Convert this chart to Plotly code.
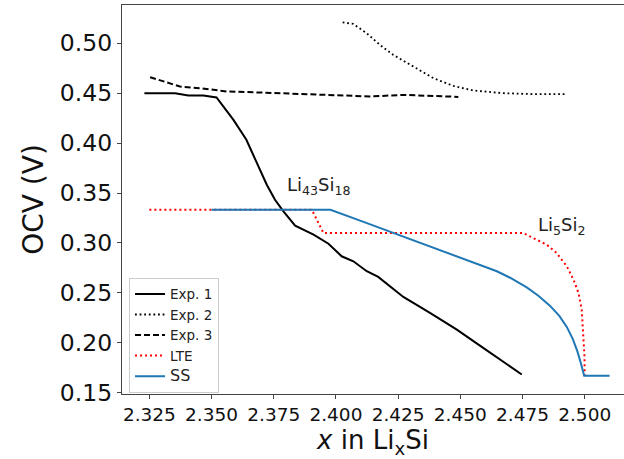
import plotly.graph_objects as go

# Exp. 1 (solid black)
exp1_x = [2.323, 2.3353, 2.3407, 2.3467, 2.352, 2.3588, 2.364, 2.3682, 2.3722, 2.3755, 2.3789,
          2.3836, 2.391, 2.397, 2.4023, 2.407, 2.4104, 2.4124, 2.417, 2.4271, 2.4378, 2.4486,
          2.4592, 2.4659, 2.4747]
exp1_y = [0.450, 0.450, 0.4477, 0.4477, 0.4457, 0.4233, 0.4033, 0.380, 0.3583, 0.3433, 0.3317,
          0.3173, 0.3083, 0.2993, 0.2867, 0.2817, 0.2750, 0.2717, 0.266, 0.246, 0.230, 0.2133,
          0.195, 0.1833, 0.1683]

# Exp. 2 (dotted black)
exp2_x = [2.4027, 2.407, 2.4124, 2.4177, 2.4231, 2.4311, 2.4392, 2.4472, 2.4552, 2.4673, 2.4807, 2.4921]
exp2_y = [0.521, 0.5193, 0.510, 0.4983, 0.4883, 0.4767, 0.465, 0.4573, 0.4527, 0.450, 0.449, 0.449]

# Exp. 3 (dashed black)
exp3_x = [2.3253, 2.3306, 2.3373, 2.3454, 2.3561, 2.3695, 2.3869, 2.4003, 2.4137, 2.4271, 2.4405, 2.4492]
exp3_y = [0.466, 0.4617, 0.4567, 0.455, 0.4517, 0.4507, 0.449, 0.4477, 0.4467, 0.4483, 0.4473, 0.4463]

# LTE (red dotted)
lte_x = [2.325, 2.3903, 2.395, 2.4753, 2.4793, 2.4847, 2.4887, 2.4928, 2.4955, 2.4975, 2.4988,
         2.4995, 2.4999, 2.500]
lte_y = [0.3333, 0.3333, 0.310, 0.310, 0.305, 0.2983, 0.290, 0.2767, 0.2633, 0.250, 0.2333,
         0.210, 0.1867, 0.167]

# SS (blue solid)
ss_x = [2.350, 2.3978, 2.410, 2.4231, 2.435, 2.4472, 2.456, 2.4647, 2.470, 2.4767, 2.4815, 2.4861,
        2.4898, 2.4928, 2.4952, 2.497, 2.4983, 2.4992, 2.4998, 2.510]
ss_y = [0.3333, 0.3333, 0.3222, 0.310, 0.2993, 0.2883, 0.280, 0.2717, 0.2652, 0.2555, 0.247, 0.237,
        0.227, 0.216, 0.204, 0.192, 0.181, 0.173, 0.167, 0.167]

# Phase labels
label_text = ["Li<sub>43</sub>Si<sub>18</sub>", "Li<sub>5</sub>Si<sub>2</sub>"]
label_x = [2.3795, 2.4804]
label_y = [0.357, 0.3167]

FONT = "DejaVu Sans"

fig = go.Figure()
fig.add_trace(go.Scatter(x=exp1_x, y=exp1_y, mode="lines", name="Exp. 1",
                         line=dict(color="black", width=2)))
fig.add_trace(go.Scatter(x=exp2_x, y=exp2_y, mode="lines", name="Exp. 2",
                         line=dict(color="black", width=1.8, dash="1.8px,2.8px")))
fig.add_trace(go.Scatter(x=exp3_x, y=exp3_y, mode="lines", name="Exp. 3",
                         line=dict(color="black", width=2, dash="6px,3px")))
fig.add_trace(go.Scatter(x=lte_x, y=lte_y, mode="lines", name="LTE",
                         line=dict(color="red", width=2, dash="2px,3px")))
fig.add_trace(go.Scatter(x=ss_x, y=ss_y, mode="lines", name="<span style='font-size:16px'>SS</span>",
                         line=dict(color="#1f77b4", width=2)))

for t, xx, yy in zip(label_text, label_x, label_y):
    fig.add_annotation(x=xx, y=yy, text=t, showarrow=False, xanchor="left", yanchor="middle",
                       font=dict(family=FONT, size=18, color="#222"))

fig.update_layout(
    width=624, height=459,
    margin=dict(l=122, r=0, t=5, b=64.5, autoexpand=False),
    paper_bgcolor="white", plot_bgcolor="white",
    font=dict(family=FONT, color="black"),
    showlegend=True,
    legend=dict(x=0.014, y=0.299, xanchor="left", yanchor="top",
                bgcolor="rgba(255,255,255,0.8)", bordercolor="#cccccc", borderwidth=1,
                font=dict(family=FONT, size=13.5, color="#222"), itemwidth=30,
                tracegroupgap=0),
)
fig.update_xaxes(range=[2.314, 2.5158], tickvals=[2.325, 2.35, 2.375, 2.4, 2.425, 2.45, 2.475, 2.5],
                 ticktext=["2.325", "2.350", "2.375", "2.400", "2.425", "2.450", "2.475", "2.500"],
                 showgrid=False, zeroline=False, showline=True, linecolor="#444", linewidth=1.2,
                 mirror=True, ticks="outside", ticklen=4, tickcolor="#444", automargin=False,
                 tickfont=dict(family=FONT, size=18.5, color="#111"),
                 title=dict(text="<i>x</i> in Li<sub>x</sub>Si", font=dict(family=FONT, size=26, color="#111"),
                            standoff=2))
fig.update_yaxes(range=[0.1488, 0.5383], tickvals=[0.15, 0.2, 0.25, 0.3, 0.35, 0.4, 0.45, 0.5],
                 ticktext=["0.15", "0.20", "0.25", "0.30", "0.35", "0.40", "0.45", "0.50"],
                 showgrid=False, zeroline=False, showline=True, linecolor="#444", linewidth=1.2,
                 mirror=False, ticks="outside", ticklen=4, tickcolor="#444", automargin=False,
                 tickfont=dict(family=FONT, size=23.5, color="#111"),
                 title=dict(text="OCV (V)", font=dict(family=FONT, size=28, color="#111"), standoff=8))

fig.write_html("out.html", config={"displayModeBar": False},
               post_script="document.body.style.margin='0px';document.body.style.padding='0px';")
